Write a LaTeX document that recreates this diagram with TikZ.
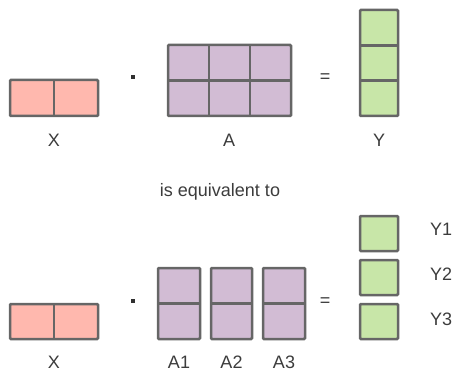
\documentclass[tikz,border=0pt]{standalone}
\usepackage{fontspec}
\setmainfont{Liberation Sans}
\usetikzlibrary{positioning}
\definecolor{xfill}{RGB}{255,184,174}
\definecolor{afill}{RGB}{210,188,212}
\definecolor{yfill}{RGB}{200,230,168}
\definecolor{cellline}{RGB}{102,102,102}
\definecolor{labeltext}{RGB}{60,60,60}
\tikzset{
  cell/.style={draw=cellline, line width=2.5pt, rounded corners=1pt},
  xcell/.style={cell, fill=xfill},
  acell/.style={cell, fill=afill},
  ycell/.style={cell, fill=yfill},
  divider/.style={draw=cellline, line width=2.5pt},
  lbl/.style={font=\fontsize{18}{20}\selectfont, text=labeltext, anchor=base, inner sep=0pt},
  op/.style={font=\fontsize{18}{20}\selectfont, text=labeltext, inner sep=0pt},
  opdot/.style={rectangle, fill=labeltext!80!black, inner sep=0pt, minimum width=4pt, minimum height=4.5pt}
}
\begin{document}
\begin{tikzpicture}[x=1pt, y=-1pt]
  \useasboundingbox (0,0) rectangle (454,371);

  % top row: X . A = Y
  \draw[xcell] (10,80) rectangle (98,116);
  \draw[divider] (54,80) -- (54,116);
  \draw[acell] (168,45) rectangle (291,116);
  \draw[divider] (209,45) -- (209,116) (250,45) -- (250,116) (168,80.5) -- (291,80.5);
  \draw[ycell] (360,10) rectangle (398,116);
  \draw[divider] (360,45.3) -- (398,45.3) (360,80.7) -- (398,80.7);

  \node[opdot] (dotTop) at (132.7,77) {};
  \node[op] (eqTop) at (325,78) {=};
  \node[lbl] (xTop) at (54,146.5) {X};
  \node[lbl] (aTop) at (229,146.5) {A};
  \node[lbl] (yTop) at (379,146.5) {Y};

  \node[lbl] (equiv) at (220,196.7) {is equivalent to};

  % bottom row: X . A1 A2 A3 = Y1 Y2 Y3
  \draw[xcell] (10,304) rectangle (98,339);
  \draw[divider] (54,304) -- (54,339);
  \foreach \xa/\xb in {158/200, 211/252, 263/305} {
    \draw[acell] (\xa,268) rectangle (\xb,339);
    \draw[divider] (\xa,303.5) -- (\xb,303.5);
  }
  \foreach \ya/\yb in {216/251, 260/295, 304/339}
    \draw[ycell] (360,\ya) rectangle (398,\yb);

  \node[opdot] (dotBot) at (132.7,301) {};
  \node[op] (eqBot) at (325,302) {=};
  \node[lbl] (xBot) at (54,368.5) {X};
  \node[lbl] (aOne) at (179,368.5) {A1};
  \node[lbl] (aTwo) at (231.5,368.5) {A2};
  \node[lbl] (aThree) at (284,368.5) {A3};
  \node[lbl] (yOne) at (441,235) {Y1};
  \node[lbl] (yTwo) at (441,280) {Y2};
  \node[lbl] (yThree) at (441,325) {Y3};
\end{tikzpicture}
\end{document}
